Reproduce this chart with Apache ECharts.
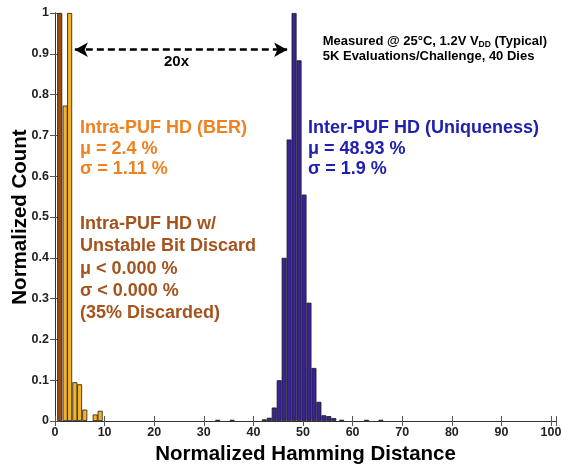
<!DOCTYPE html>
<html><head><meta charset="utf-8">
<script src="https://cdn.jsdelivr.net/npm/echarts@6/dist/echarts.min.js"></script>
<style>html,body{margin:0;padding:0;background:#fff}#c{width:562px;height:466px}</style>
</head><body><div id="c"></div>
<script>
// ---- data ----
const brownX = [0.95];
const brownY = [1.0];
const yellowX = [2.05, 2.95, 4.0, 4.95, 6.0, 8.1, 9.1];
const yellowY = [0.773, 1.0, 0.095, 0.090, 0.028, 0.016, 0.025];
const blueX = [32.8, 35.7, 42.2, 43.2, 44.2, 45.2, 46.2, 47.2, 48.2, 49.2, 50.2, 51.2, 52.2, 53.2, 54.2, 55.2, 56.2, 57.8, 62.8, 65.7];
const blueY = [0.003, 0.003, 0.004, 0.008, 0.033, 0.10, 0.40, 0.69, 1.0, 0.884, 0.555, 0.29, 0.13, 0.047, 0.014, 0.012, 0.007, 0.003, 0.003, 0.003];
const xTicks = [0, 10, 20, 30, 40, 50, 60, 70, 80, 90, 100];
const yTicks = [0, 0.1, 0.2, 0.3, 0.4, 0.5, 0.6, 0.7, 0.8, 0.9, 1];
const arrowFrom = [4.0, 0.91];
const arrowTo = [46.8, 0.91];

const pairs = (xs, ys) => xs.map((x, i) => [x, ys[i]]);
const FONT = '"Liberation Sans", Arial, sans-serif';
const chart = echarts.init(document.getElementById('c'), null, {renderer: 'canvas'});

const axisCommon = {
  axisLine: {show: true, lineStyle: {color: '#333', width: 1}},
  axisTick: {show: true, inside: true, length: 5, lineStyle: {color: '#555'}},
  splitLine: {show: false}
};
const labelStyle = {color: '#222', fontFamily: FONT, fontWeight: 'bold', fontSize: 12.5};

const barStyle = (c) => ({color: c, borderColor: '#1a1a1a', borderWidth: 0.8});

chart.setOption({
  animation: false,
  grid: {left: 55, right: 6, top: 13, bottom: 45, show: false, containLabel: false, outerBoundsMode: 'none'},
  xAxis: [
    Object.assign({type: 'value', min: 0, max: 101, interval: 10, position: 'bottom',
      axisLabel: Object.assign({margin: 5, formatter: v => xTicks.includes(v) ? String(v) : ''}, labelStyle),
      name: 'Normalized Hamming Distance', nameLocation: 'middle', nameGap: 21,
      nameTextStyle: {color: '#000', fontFamily: FONT, fontWeight: 'bold', fontSize: 20.5}
    }, axisCommon),
    Object.assign({type: 'value', min: 0, max: 101, interval: 10, position: 'top',
      axisLabel: {show: false}}, axisCommon)
  ],
  yAxis: [
    Object.assign({type: 'value', min: 0, max: 1, interval: 0.1, position: 'left',
      axisLabel: Object.assign({margin: 6, formatter: v => {
        const t = yTicks.find(k => Math.abs(k - v) < 1e-9); return t === undefined ? '' : String(t);
      }}, labelStyle),
      name: 'Normalized Count', nameLocation: 'middle', nameGap: 24, nameMoveOverlap: false,
      nameTextStyle: {color: '#000', fontFamily: FONT, fontWeight: 'bold', fontSize: 20.5}
    }, axisCommon),
    Object.assign({type: 'value', min: 0, max: 1, interval: 0.1, position: 'right',
      axisLabel: {show: false}}, axisCommon)
  ],
  series: [
    {type: 'bar', name: 'brown', data: pairs(brownX, brownY), barWidth: 5, barGap: '-100%',
      itemStyle: barStyle('#9E4B0E')},
    {type: 'bar', name: 'yellow', data: pairs(yellowX, yellowY), barWidth: 5, barGap: '-100%',
      itemStyle: barStyle('#F2B326'),
      markLine: {
        silent: true, symbol: ['arrow', 'arrow'], symbolSize: [11, 13],
        lineStyle: {color: '#000', width: 2.5, type: [7, 4]},
        label: {show: false},
        data: [[{coord: arrowFrom}, {coord: arrowTo}]]
      }},
    {type: 'bar', name: 'blue', data: pairs(blueX, blueY), barWidth: 5, barGap: '-100%',
      itemStyle: barStyle('#3A2399')}
  ],
  graphic: [
    {type: 'text', left: 164, top: 54, style: {text: '20x', fill: '#000', font: 'bold 15px ' + FONT}},
    {type: 'text', right: 15, top: 34, style: {
      text: '{a|Measured @ 25°C, 1.2V V}{s|DD}{a| (Typical)}\n{a|5K Evaluations/Challenge, 40 Dies}',
      align: 'right', lineHeight: 15,
      rich: {a: {font: 'bold 13px ' + FONT, fill: '#000', lineHeight: 15}, s: {font: 'bold 8.5px ' + FONT, fill: '#000', verticalAlign: 'bottom', lineHeight: 12}}
    }},
    {type: 'text', left: 80, top: 118, style: {
      text: 'Intra-PUF HD (BER)\nμ = 2.4 %\nσ = 1.11 %', fill: '#F08020',
      font: 'bold 18px ' + FONT, lineHeight: 20.5}},
    {type: 'text', left: 80, top: 213, style: {
      text: 'Intra-PUF HD w/\nUnstable Bit Discard\nμ < 0.000 %\nσ < 0.000 %\n(35% Discarded)', fill: '#A5531D',
      font: 'bold 18px ' + FONT, lineHeight: 22.3}},
    {type: 'text', left: 308, top: 118, style: {
      text: 'Inter-PUF HD (Uniqueness)\nμ = 48.93 %\nσ = 1.9 %', fill: '#2020B0',
      font: 'bold 18px ' + FONT, lineHeight: 20.5}}
  ]
});
</script></body></html>
